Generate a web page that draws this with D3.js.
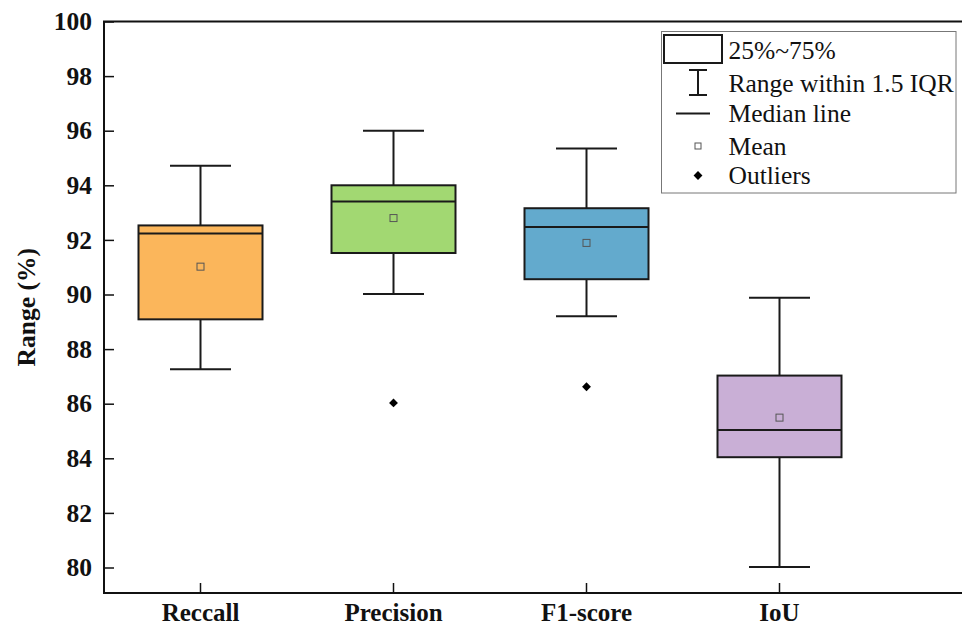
<!DOCTYPE html>
<html>
<head>
<meta charset="utf-8">
<script src="https://cdn.jsdelivr.net/npm/d3@7"></script>
<style>
  body { margin: 0; background: #fff; }
  svg { display: block; font-family: "Liberation Serif", "Times New Roman", serif; }
</style>
</head>
<body>
<svg width="962" height="628"></svg>
<script>
// box plot data
var categories = ["Reccall", "Precision", "F1-score", "IoU"];
var whiskerLow = [87.26, 90.02, 89.20, 80.02];
var q1 = [89.09, 91.52, 90.56, 84.04];
var median = [92.23, 93.41, 92.47, 85.04];
var q3 = [92.53, 94.00, 93.16, 87.03];
var whiskerHigh = [94.72, 96.00, 95.35, 89.88];
var means = [91.02, 92.80, 91.89, 85.49];
var outliers = [[], [86.03], [86.62], []];
var yTicks = [80, 82, 84, 86, 88, 90, 92, 94, 96, 98, 100];
var boxColors = ["#FBB65B", "#A2D872", "#63AACD", "#C9AFD6"];

var legendItems = ["25%~75%", "Range within 1.5 IQR", "Median line", "Mean", "Outliers"];

var svg = d3.select("svg"),
    width = +svg.attr("width"),
    height = +svg.attr("height"),
    plotLeft = 104,
    plotTop = 21.5,
    plotBottom = 593,
    fontSize = "25.5px";

// scales
var x = d3.scaleBand().domain(categories).range([plotLeft, plotLeft + 4 * 193]).padding(0);
var y = d3.scaleLinear().domain([80, 100]).range([567.5, plotTop]);

var data = categories.map(function (c, i) {
    return {
        name: c, lo: whiskerLow[i], q1: q1[i], med: median[i], q3: q3[i],
        hi: whiskerHigh[i], mean: means[i], out: outliers[i], color: boxColors[i]
    };
});

var cx = function (d) { return x(d.name) + x.bandwidth() / 2; };
var boxW = 124, capW = 61;

// axes
var yAxis = svg.append("g")
    .attr("transform", "translate(" + plotLeft + ",0)")
    .call(d3.axisLeft(y).tickValues(yTicks).tickSizeInner(-10).tickSizeOuter(0).tickPadding(12));
yAxis.select(".domain").remove();
yAxis.selectAll(".tick line").attr("stroke", "#111").attr("stroke-width", 1.5);
yAxis.selectAll("text")
    .attr("fill", "#111")
    .style("font-size", fontSize)
    .style("font-weight", "bold")
    .style("font-family", "'Liberation Serif', 'Times New Roman', serif");

var xAxis = svg.append("g")
    .attr("transform", "translate(0," + plotBottom + ")")
    .call(d3.axisBottom(x).tickSizeInner(-10).tickSizeOuter(0).tickPadding(10));
xAxis.select(".domain").remove();
xAxis.selectAll(".tick line").attr("stroke", "#111").attr("stroke-width", 1.5);
xAxis.selectAll("text")
    .attr("fill", "#111")
    .style("font-size", "25px")
    .style("font-weight", "bold")
    .style("font-family", "'Liberation Serif', 'Times New Roman', serif");

// frame lines: left, bottom and top (no right side)
svg.append("path")
    .attr("d", "M" + width + "," + plotTop + "H" + plotLeft + "V" + plotBottom + "H" + width)
    .attr("fill", "none")
    .attr("stroke", "#111")
    .attr("stroke-width", 2);

// y axis title
svg.append("text")
    .attr("transform", "translate(35," + ((plotTop + plotBottom) / 2) + ") rotate(-90)")
    .attr("text-anchor", "middle")
    .style("font-size", fontSize)
    .style("font-weight", "bold")
    .attr("fill", "#111")
    .text("Range (%)");

// boxes
var g = svg.selectAll(".box")
    .data(data)
    .enter().append("g")
    .attr("class", "box");

// whiskers
g.append("line")
    .attr("x1", cx).attr("x2", cx)
    .attr("y1", function (d) { return y(d.hi); })
    .attr("y2", function (d) { return y(d.q3); })
    .attr("stroke", "#1a1a1a").attr("stroke-width", 2);
g.append("line")
    .attr("x1", cx).attr("x2", cx)
    .attr("y1", function (d) { return y(d.q1); })
    .attr("y2", function (d) { return y(d.lo); })
    .attr("stroke", "#1a1a1a").attr("stroke-width", 2);
["hi", "lo"].forEach(function (k) {
    g.append("line")
        .attr("x1", function (d) { return cx(d) - capW / 2; })
        .attr("x2", function (d) { return cx(d) + capW / 2; })
        .attr("y1", function (d) { return y(d[k]); })
        .attr("y2", function (d) { return y(d[k]); })
        .attr("stroke", "#1a1a1a").attr("stroke-width", 2);
});

g.append("rect")
    .attr("x", function (d) { return cx(d) - boxW / 2; })
    .attr("y", function (d) { return y(d.q3); })
    .attr("width", boxW)
    .attr("height", function (d) { return y(d.q1) - y(d.q3); })
    .attr("fill", function (d) { return d.color; })
    .attr("stroke", "#1a1a1a")
    .attr("stroke-width", 2);

g.append("line")
    .attr("x1", function (d) { return cx(d) - boxW / 2; })
    .attr("x2", function (d) { return cx(d) + boxW / 2; })
    .attr("y1", function (d) { return y(d.med); })
    .attr("y2", function (d) { return y(d.med); })
    .attr("stroke", "#1a1a1a").attr("stroke-width", 2);

// mean markers
g.append("rect")
    .attr("x", function (d) { return cx(d) - 3.5; })
    .attr("y", function (d) { return y(d.mean) - 3.5; })
    .attr("width", 7).attr("height", 7)
    .attr("fill", "none")
    .attr("stroke", "#555")
    .attr("stroke-width", 1);

// outliers
var diamond = d3.symbol().type(d3.symbolDiamond2).size(50);
g.selectAll(".outlier")
    .data(function (d) { return d.out.map(function (v) { return { v: v, d: d }; }); })
    .enter().append("path")
    .attr("class", "outlier")
    .attr("d", diamond)
    .attr("transform", function (o) { return "translate(" + cx(o.d) + "," + y(o.v) + ")"; })
    .attr("fill", "#000");

// legend
var lg = svg.append("g").attr("transform", "translate(661.5,31.5)");
lg.append("rect")
    .attr("width", 294.5).attr("height", 161.5)
    .attr("fill", "#fff")
    .attr("stroke", "#777")
    .attr("stroke-width", 1);

var rowY = [19, 51.5, 82, 114.5, 144];
var sx = 36.5;

lg.append("rect")
    .attr("x", 2.5).attr("y", 3.5).attr("width", 58).attr("height", 28)
    .attr("fill", "#fff").attr("stroke", "#1a1a1a").attr("stroke-width", 2);

lg.append("path")
    .attr("d", "M" + (sx - 9) + "," + (rowY[1] - 13) + "H" + (sx + 9) +
        "M" + sx + "," + (rowY[1] - 13) + "V" + (rowY[1] + 12) +
        "M" + (sx - 9) + "," + (rowY[1] + 12) + "H" + (sx + 9))
    .attr("fill", "none").attr("stroke", "#1a1a1a").attr("stroke-width", 2);

lg.append("line")
    .attr("x1", sx - 22).attr("x2", sx + 12)
    .attr("y1", rowY[2]).attr("y2", rowY[2])
    .attr("stroke", "#1a1a1a").attr("stroke-width", 2);

lg.append("rect")
    .attr("x", sx - 3).attr("y", rowY[3] - 3).attr("width", 6).attr("height", 6)
    .attr("fill", "none").attr("stroke", "#555").attr("stroke-width", 1);

lg.append("path")
    .attr("d", diamond)
    .attr("transform", "translate(" + sx + "," + rowY[4] + ")")
    .attr("fill", "#000");

lg.selectAll(".ltext")
    .data(legendItems)
    .enter().append("text")
    .attr("class", "ltext")
    .attr("x", 67)
    .attr("y", function (d, i) { return rowY[i]; })
    .attr("dy", "0.35em")
    .style("font-size", fontSize)
    .attr("fill", "#111")
    .text(function (d) { return d; });
</script>
</body>
</html>
